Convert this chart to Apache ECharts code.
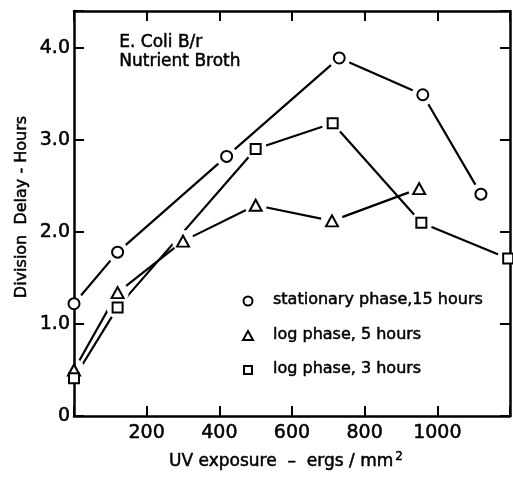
<!DOCTYPE html>
<html>
<head>
<meta charset="utf-8">
<script src="https://cdn.jsdelivr.net/npm/echarts@6/dist/echarts.min.js"></script>
<style>html,body{margin:0;padding:0;background:#fff}#c{width:513px;height:478px}</style>
</head>
<body>
<div id="c"></div>
<script>
var stationaryX = [0, 120, 420, 730, 960, 1120];
var stationaryY = [1.22, 1.78, 2.82, 3.89, 3.49, 2.41];
var log5X = [0, 120, 300, 500, 710, 950];
var log5Y = [0.50, 1.34, 1.90, 2.29, 2.12, 2.47];
var log3X = [0, 120, 500, 712, 956, 1195];
var log3Y = [0.41, 1.18, 2.90, 3.18, 2.10, 1.71];
var xTickLabels = ['200', '400', '600', '800', '1000'];
var yTickLabels = ['0', '1.0', '2.0', '3.0', '4.0'];
var seriesNames = ['stationary phase,15 hours', 'log phase, 5 hours', 'log phase, 3 hours'];

function pairs(xs, ys) { return xs.map(function (x, i) { return [x, ys[i]]; }); }
var sets = [
  { data: pairs(stationaryX, stationaryY), symbol: 'circle', size: 11 },
  { data: pairs(log5X, log5Y), symbol: 'triangle', size: [12, 11] },
  { data: pairs(log3X, log3Y), symbol: 'rect', size: 10 }
];
var FONT = 'DejaVu Sans';
var TB = { textBorderColor: '#000', textBorderWidth: 0.5 };
var GS = { stroke: '#000', lineWidth: 0.5 };
var series = [];
sets.forEach(function (s, i) {
  series.push({ type: 'line', name: seriesNames[i], data: s.data, showSymbol: false, z: 1,
    lineStyle: { color: '#000', width: 2.2 }, animation: false, silent: true });
});
sets.forEach(function (s) {
  series.push({ type: 'scatter', data: s.data, symbol: 'circle', symbolSize: 22, z: 2,
    itemStyle: { color: '#fff', borderWidth: 0, opacity: 1 }, animation: false, silent: true });
});
sets.forEach(function (s) {
  series.push({ type: 'scatter', data: s.data, symbol: s.symbol, symbolSize: s.size, z: 4,
    itemStyle: { color: '#fff', borderColor: '#000', borderWidth: 2, opacity: 1 }, animation: false, silent: true });
});

function axisCommon() {
  return {
    axisLine: { onZero: false, lineStyle: { color: '#000', width: 2.5 } },
    axisTick: { inside: true, length: 10, lineStyle: { color: '#000', width: 2 } },
    splitLine: { show: false }
  };
}
function txt(o) { return Object.assign({ fill: '#000' }, GS, o); }

var chart = echarts.init(document.getElementById('c'), null, { renderer: 'canvas' });
chart.setOption({
  backgroundColor: '#fff',
  animation: false,
  grid: { left: 74, right: 1, top: 11, bottom: 62, containLabel: false },
  xAxis: [
    Object.assign({ type: 'value', min: 0, max: 1200, interval: 200, position: 'bottom', z: 3,
      axisLabel: Object.assign({ margin: 8, color: '#000', fontFamily: FONT, fontSize: 19,
        formatter: function (v) { var i = Math.round(v / 200) - 1; return (i >= 0 && i < xTickLabels.length && v % 200 === 0) ? xTickLabels[i] : ''; } }, TB) }, axisCommon()),
    Object.assign({ type: 'value', min: 0, max: 1200, interval: 200, position: 'top', z: 3,
      axisLabel: { show: false } }, axisCommon())
  ],
  yAxis: [
    Object.assign({ type: 'value', min: 0, max: 4.4, interval: 1, position: 'left', z: 3,
      axisLabel: Object.assign({ margin: 4, color: '#000', fontFamily: FONT, fontSize: 19,
        formatter: function (v) { var r = Math.round(v); return Math.abs(v - r) < 1e-6 && r < yTickLabels.length ? yTickLabels[r] : ''; } }, TB) }, axisCommon()),
    Object.assign({ type: 'value', min: 0, max: 4.4, interval: 1, position: 'right', z: 3,
      axisLabel: { show: false } }, axisCommon())
  ],
  series: series,
  graphic: [
    { type: 'text', left: 119, top: 34, z: 10, style: txt({ text: 'E. Coli B/r', font: '17px "DejaVu Sans"' }) },
    { type: 'text', left: 119, top: 53, z: 10, style: txt({ text: 'Nutrient Broth', font: '17px "DejaVu Sans"' }) },
    { type: 'text', x: 22, y: 207, rotation: Math.PI / 2, z: 10,
      style: txt({ text: 'Division  Delay - Hours', font: '16px "DejaVu Sans"', align: 'center', verticalAlign: 'middle' }) },
    { type: 'text', x: 286, y: 462, z: 10,
      style: txt({ text: 'UV exposure  –  ergs / mm{sup|2}', font: '17px "DejaVu Sans"', align: 'center', verticalAlign: 'middle',
        rich: { sup: { fontSize: 12, fontFamily: FONT, fill: '#000', stroke: '#000', lineWidth: 0.5, verticalAlign: 'top', padding: [0, 0, 10, 2] } } }) },
    { type: 'circle', z: 10, shape: { cx: 248, cy: 301, r: 4.5 }, style: { fill: '#fff', stroke: '#000', lineWidth: 2 } },
    { type: 'polygon', z: 10, shape: { points: [[248, 331], [253, 340], [243, 340]] }, style: { fill: '#fff', stroke: '#000', lineWidth: 2 } },
    { type: 'rect', z: 10, shape: { x: 244, y: 366, width: 8, height: 8 }, style: { fill: '#fff', stroke: '#000', lineWidth: 2 } },
    { type: 'text', x: 273, y: 300, z: 10, style: txt({ text: seriesNames[0], font: '16px "DejaVu Sans"', verticalAlign: 'middle' }) },
    { type: 'text', x: 273, y: 335, z: 10, style: txt({ text: seriesNames[1], font: '16px "DejaVu Sans"', verticalAlign: 'middle' }) },
    { type: 'text', x: 273, y: 369, z: 10, style: txt({ text: seriesNames[2], font: '16px "DejaVu Sans"', verticalAlign: 'middle' }) }
  ]
});
</script>
</body>
</html>
